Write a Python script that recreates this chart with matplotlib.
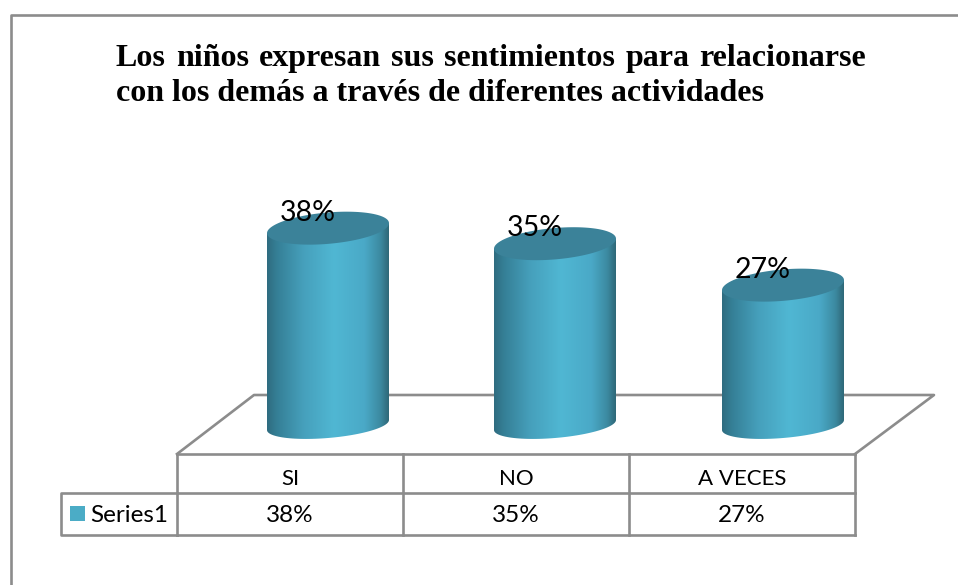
#!/usr/bin/env python3
import numpy as np
import matplotlib
matplotlib.use("Agg")
import matplotlib.pyplot as plt
from matplotlib.colors import LinearSegmentedColormap
from matplotlib.patches import PathPatch, Rectangle
from matplotlib.path import Path

categories = ["SI", "NO", "A VECES"]
values = [38, 35, 27]
series_name = "Series1"
title_lines = ["Los niños expresan sus sentimientos para relacionarse",
               "con los demás a través de diferentes actividades"]

W, H = 958, 585
GREY = "#8c8c8c"
LW = 1.9
BASE_Y = 425      # centre of the bar bottoms
PX_PER_PCT = 5.18
BAR_W = 122
RY_TOP = 15.7
RY_BOT = 13
TILT = np.deg2rad(-4.7)
COLS = [177, 403, 629, 855]
CENTERS = [328, 555, 783]

shade = LinearSegmentedColormap.from_list(
    "cyl", [(0, "#2f6c80"), (0.08, "#357f96"), (0.3, "#46a0bc"), (0.55, "#50b7d3"),
            (0.8, "#4aa9c7"), (0.93, "#3c8aa1"), (1, "#2f6878")])
gradient = np.linspace(0, 1, 256).reshape(1, -1)


def ellipse(cx, cy, a, b):
    t = np.linspace(0, 2 * np.pi, 121)
    x = a * np.cos(t)
    y = b * np.sin(t)
    return cx + x, cy + y + x * np.tan(TILT)


def draw_bar(ax, cx, val):
    top = BASE_Y - val * PX_PER_PCT
    a = BAR_W / 2
    xt, yt = ellipse(cx, top, a, RY_TOP)
    lower = np.deg2rad(np.linspace(0, 180, 61))
    bx = cx + a * np.cos(lower)
    by = BASE_Y + RY_BOT * np.sin(lower) + a * np.cos(lower) * np.tan(TILT)
    # body outline: down the right side, along the bottom arc, up the left side
    px = np.r_[cx + a, bx, cx - a]
    py = np.r_[top + a * np.tan(TILT), by, top - a * np.tan(TILT)]
    body = Path(np.column_stack([px, py]))
    im = ax.imshow(gradient, cmap=shade, extent=[cx - a, cx + a, BASE_Y + 30, top - 30],
                   aspect="auto", zorder=3, interpolation="bilinear")
    im.set_clip_path(PathPatch(body, transform=ax.transData))
    ax.fill(xt, yt, color="#3b8299", zorder=4, lw=0)
    ax.text(cx - 20.5, top - 15.5, f"{val}%", fontsize=20.5, family="Lato", ha="center",
            va="center", color="black", zorder=5)


def justified(ax, fig, words, x0, x1, y, **kw):
    r = fig.canvas.get_renderer()
    items = [ax.text(0, y, w, **kw) for w in words]
    widths = [t.get_window_extent(r).width for t in items]
    gap = (x1 - x0 - sum(widths)) / (len(words) - 1)
    x = x0
    for t, w in zip(items, widths):
        t.set_x(x)
        x += w + gap


def main():
    fig = plt.figure(figsize=(W / 100, H / 100), dpi=100)
    ax = fig.add_axes([0, 0, 1, 1])
    ax.set_xlim(0, W)
    ax.set_ylim(H, 0)
    ax.axis("off")

    # chart frame, cut off by the right and bottom of the picture
    ax.plot([11, 11, W], [H, 15, 15], color=GREY, lw=LW, zorder=1)

    title_kw = dict(family="Liberation Serif", fontweight="bold", fontsize=23,
                    color="black", va="baseline", ha="left")
    justified(ax, fig, title_lines[0].split(), 116, 866, 66, **title_kw)
    ax.text(116, 101, title_lines[1], **title_kw)

    # floor
    ax.plot([177, 254, 934, 855], [454, 395, 395, 454], color=GREY, lw=LW, zorder=1)

    for cx, val in zip(CENTERS, values):
        draw_bar(ax, cx, val)

    # data table
    for y in [454, 493, 535]:
        ax.plot([COLS[0], COLS[-1]], [y, y], color=GREY, lw=LW, zorder=2)
    for x in COLS:
        ax.plot([x, x], [454, 535], color=GREY, lw=LW, zorder=2)
    ax.plot([177, 61, 61, 177], [493, 493, 535, 535], color=GREY, lw=LW, zorder=2)
    ax.add_patch(Rectangle((70, 506), 15, 15, color="#4bacc6", lw=0, zorder=3))
    txt = dict(family="Lato", ha="center", va="center", color="black")
    ax.text(129.5, 515, series_name, fontsize=17.5, **txt)
    for a, b, cat, val in zip(COLS[:-1], COLS[1:], categories, values):
        ax.text((a + b) / 2, 479, cat, fontsize=16, **txt)
        ax.text((a + b) / 2, 515, f"{val}%", fontsize=17.5, **txt)

    fig.savefig("out.png", dpi=100)
    plt.close(fig)


if __name__ == "__main__":
    main()
